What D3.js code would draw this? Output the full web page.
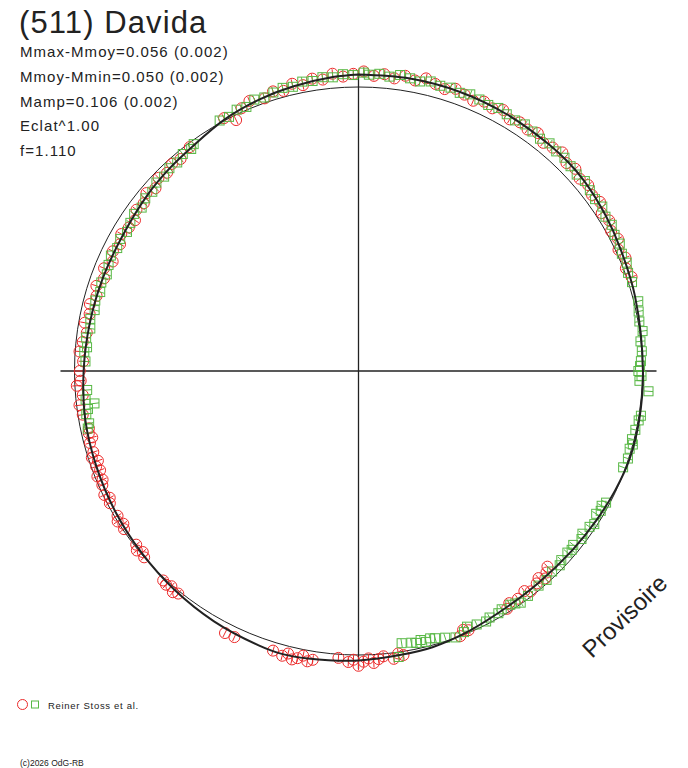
<!DOCTYPE html>
<html>
<head>
<meta charset="utf-8">
<script src="https://cdn.jsdelivr.net/npm/d3@7"></script>
<style>
    body { margin: 0; background: #fff; }
    svg text { font-family: "Liberation Sans", Arial, sans-serif; fill: #222; }
</style>
</head>
<body>
<div id="chart"></div>
<script>

// title + fit results
const title = "(511) Davida";
const statLines = ["Mmax-Mmoy=0.056 (0.002)", "Mmoy-Mmin=0.050 (0.002)", "Mamp=0.106 (0.002)", "Eclat^1.00", "f=1.110"];
const legendLabel = "Reiner Stoss et al.";
const copyright = "(c)2026 OdG-RB";
const stamp = "Provisoire";

// fitted lightcurve (phase angle in degrees, magnitude relative to mean)
const modelAngle = [0, 10, 20, 30, 40, 45, 50, 58, 65, 75, 90, 100, 108, 115, 122, 130, 140, 150, 158, 165, 172, 180, 190, 195, 200, 210, 220, 230, 240, 250, 260, 270, 280, 290, 300, 310, 317, 323, 332, 340, 347, 355, 360];
const modelMag = [-0.052, -0.054, -0.054, -0.052, -0.050, -0.050, -0.046, -0.033, -0.021, -0.010, -0.002, -0.004, -0.004, 0.004, 0.013, 0.021, 0.025, 0.019, 0.004, -0.008, -0.013, -0.023, -0.033, -0.038, -0.033, -0.021, -0.008, 0.004, 0.013, 0.021, 0.027, 0.038, 0.046, 0.050, 0.050, 0.038, 0.029, 0.021, -0.004, -0.021, -0.033, -0.046, -0.052];

// session 1 (red circles)
const redAngle = [1, 3, 5, 7, 9, 11, 13, 15, 17, 19, 21, 23, 25, 27, 29, 31, 33, 35, 37, 39, 41, 43, 45, 47, 49, 51, 53, 55, 57, 59, 61, 63, 65, 67, 69, 71,
    136, 137, 138, 139, 140, 142, 143, 145, 147, 148, 157, 158, 159,
    171, 172, 173, 175, 176, 177, 178, 179, 180, 181, 182, 184, 189, 190, 191, 192, 193, 194, 195, 197,
    205, 207, 219, 220, 221, 222, 223,
    229, 230, 231, 232, 236, 237, 238, 239, 242, 243, 244, 246, 247, 248, 249, 250, 251, 252, 253, 255, 256, 257, 258,
    261, 263, 265, 267, 268, 270, 272, 274, 276, 278, 280, 282, 284, 286, 288,
    290, 292, 294, 296, 298, 300, 302, 304, 306, 308, 310, 312, 314, 316, 318, 320, 323,
    332, 334, 336, 338, 341, 343, 345, 347, 349, 351, 353, 355, 357, 359];
const redMag = [-0.065, -0.048, -0.058, -0.045, -0.062, -0.050, -0.068, -0.055, -0.045, -0.060, -0.050, -0.040, -0.055, -0.045, -0.060, -0.040, -0.052, -0.045, -0.058, -0.040, -0.050, -0.062, -0.042, -0.052, -0.038, -0.048, -0.035, -0.045, -0.025, -0.035, -0.020, -0.030, -0.012, -0.025, -0.010, -0.020,
    0.050, 0.035, 0.020, 0.040, 0.028, 0.018, 0.035, 0.025, 0.030, 0.015, 0.010, 0.020, 0.000,
    -0.015, -0.005, -0.025, -0.010, -0.020, -0.035, -0.015, -0.028, -0.045, -0.020, -0.030, -0.015, -0.035, -0.045, -0.025, -0.040, -0.050, -0.030, -0.045, -0.035,
    -0.040, -0.042, -0.010, -0.020, -0.005, -0.015, -0.010,
    0.000, 0.010, -0.005, 0.008, 0.005, 0.015, 0.000, 0.012, 0.010, 0.020, 0.005, 0.015, 0.025, 0.010, 0.030, 0.020, 0.035, 0.015, 0.028, 0.025, 0.040, 0.030, 0.035,
    0.020, 0.012, 0.030, 0.008, 0.025, 0.022, 0.035, 0.018, 0.028, 0.040, 0.025, 0.038, 0.030, 0.048, 0.035,
    0.055, 0.040, 0.062, 0.045, 0.058, 0.042, 0.055, 0.060, 0.040, 0.048, 0.030, 0.045, 0.025, 0.035, 0.022, 0.030, 0.015,
    -0.010, 0.020, -0.015, -0.030, -0.018, -0.035, -0.025, -0.045, -0.030, -0.050, -0.040, -0.060, -0.045, -0.055];

// session 2 (green squares)
const greenAngle = [1, 2, 4, 6, 8, 10, 12, 14, 16, 18, 20, 22, 24, 26, 28, 30, 32, 34, 36, 38, 40, 42, 44, 46, 48, 50, 52, 54, 56, 58, 60, 62, 64, 66, 68, 70, 72,
    76, 78, 80, 82, 84, 86, 88, 89, 90, 91, 92, 94, 99, 100, 102, 104, 105, 106, 108, 110,
    118, 119, 120, 121, 123, 124, 126, 127, 129, 130, 131, 133, 134, 136, 138, 140, 143, 145, 146, 147, 149, 150, 152, 153, 155, 157, 158, 160, 162, 164, 165, 166, 167, 168, 169, 171, 172,
    258, 259, 261, 262, 263, 264, 266, 272, 274, 275, 277, 279, 281, 283, 285, 287, 289, 291, 293, 295, 297, 299, 301, 303, 305, 307, 309, 311, 313, 315, 317, 319, 321, 323, 324,
    331, 333, 335, 337, 339, 341, 343, 345, 347, 349, 351, 353, 355, 357, 359];
const greenMag = [-0.060, -0.052, -0.058, -0.050, -0.062, -0.055, -0.050, -0.060, -0.053, -0.058, -0.050, -0.060, -0.055, -0.050, -0.058, -0.052, -0.048, -0.056, -0.050, -0.045, -0.055, -0.048, -0.052, -0.045, -0.040, -0.048, -0.040, -0.035, -0.042, -0.030, -0.035, -0.025, -0.028, -0.018, -0.022, -0.012, -0.015,
    -0.018, -0.010, -0.005, -0.012, 0.002, 0.000, 0.006, 0.010, 0.017, 0.004, 0.012, -0.028, -0.008, -0.002, 0.004, 0.009, 0.000, 0.008, 0.003, 0.010,
    0.015, 0.025, 0.018, 0.028, 0.012, 0.022, 0.030, 0.020, 0.032, 0.024, 0.030, 0.028, 0.018, 0.022, 0.012, 0.016, 0.010, 0.005, 0.015, 0.022, 0.025, 0.018, 0.020, 0.012, 0.018, 0.026, 0.010, 0.002, 0.015, 0.025, 0.030, 0.020, 0.033, 0.025, 0.030, 0.035, -0.020,
    0.030, 0.040, 0.035, 0.045, 0.075, 0.040, 0.050, 0.045, 0.038, 0.048, 0.040, 0.052, 0.045, 0.055, 0.048, 0.058, 0.050, 0.060, 0.052, 0.045, 0.055, 0.048, 0.058, 0.050, 0.042, 0.052, 0.040, 0.045, 0.032, 0.038, 0.028, 0.032, 0.020, 0.025, 0.015,
    -0.010, -0.005, -0.018, -0.012, -0.028, -0.022, -0.030, -0.038, -0.032, -0.045, -0.040, -0.050, -0.045, -0.055, -0.050];


class PolarVis {

    constructor(parentElement) {
        this.parentElement = parentElement;
        this.model = modelAngle.map((a, i) => ({angle: a, mag: modelMag[i]}));
        this.red = redAngle.map((a, i) => ({angle: a, mag: redMag[i]}));
        this.green = greenAngle.map((a, i) => ({angle: a, mag: greenMag[i]}));
        this.initVis();
    }

    initVis() {
        let vis = this;

        vis.width = 688;
        vis.height = 768;
        vis.center = [358.5, 371];
        vis.R0 = 284;
        vis.ink = "#222";
        vis.redColor = "#ec2a2a";
        vis.greenColor = "#58b845";

        vis.svg = d3.select("#" + vis.parentElement).append("svg")
            .attr("width", vis.width)
            .attr("height", vis.height);

        // phase -> angle, magnitude -> radius (brighter = further out)
        vis.angle = d3.scaleLinear().domain([0, 360]).range([0, 2 * Math.PI]);
        vis.radius = d3.scaleLinear().domain([-0.06, 0.06]).range([vis.R0 + 14.4, vis.R0 - 14.4]);

        vis.plot = vis.svg.append("g")
            .attr("transform", "translate(" + vis.center[0] + "," + vis.center[1] + ")");

        vis.updateVis();
    }

    updateVis() {
        let vis = this;

        // reference circle (mean magnitude)
        vis.plot.append("circle")
            .attr("r", vis.radius(0))
            .attr("fill", "none")
            .attr("stroke", vis.ink)
            .attr("stroke-width", 1);

        // cross hairs
        let half = 298;
        vis.plot.append("line")
            .attr("x1", -half).attr("x2", half)
            .attr("stroke", vis.ink).attr("stroke-width", 1.3);
        vis.plot.append("line")
            .attr("y1", -half).attr("y2", half)
            .attr("stroke", vis.ink).attr("stroke-width", 1.3);

        let pt = d => d3.pointRadial(vis.angle(d.angle), vis.radius(d.mag));
        let bar = d => {
            let a = vis.angle(d.angle), r = vis.radius(d.mag);
            return [d3.pointRadial(a, r - 4.5), d3.pointRadial(a, r + 4.5)];
        };

        // red session
        let reds = vis.plot.append("g").selectAll("g.red")
            .data(vis.red)
            .enter()
            .append("g")
            .attr("class", "red");
        reds.append("circle")
            .attr("cx", d => pt(d)[0])
            .attr("cy", d => pt(d)[1])
            .attr("r", 5.5)
            .attr("fill", "none")
            .attr("stroke", vis.redColor)
            .attr("stroke-width", 1);
        reds.append("line")
            .attr("x1", d => bar(d)[0][0]).attr("y1", d => bar(d)[0][1])
            .attr("x2", d => bar(d)[1][0]).attr("y2", d => bar(d)[1][1])
            .attr("stroke", vis.redColor)
            .attr("stroke-width", 1);

        // green session
        let greens = vis.plot.append("g").selectAll("g.green")
            .data(vis.green)
            .enter()
            .append("g")
            .attr("class", "green");
        greens.append("rect")
            .attr("x", d => pt(d)[0] - 4.5)
            .attr("y", d => pt(d)[1] - 4.5)
            .attr("width", 9)
            .attr("height", 9)
            .attr("fill", "none")
            .attr("stroke", vis.greenColor)
            .attr("stroke-width", 1);
        greens.append("line")
            .attr("x1", d => bar(d)[0][0]).attr("y1", d => bar(d)[0][1])
            .attr("x2", d => bar(d)[1][0]).attr("y2", d => bar(d)[1][1])
            .attr("stroke", vis.greenColor)
            .attr("stroke-width", 1);

        // fitted lightcurve
        let curve = d3.lineRadial()
            .angle(d => vis.angle(d.angle))
            .radius(d => vis.radius(d.mag))
            .curve(d3.curveCatmullRom.alpha(0.5));
        vis.plot.append("path")
            .datum(vis.model)
            .attr("d", curve)
            .attr("fill", "none")
            .attr("stroke", vis.ink)
            .attr("stroke-width", 2);

        // texts
        vis.svg.append("text")
            .attr("x", 19).attr("y", 33)
            .style("font-size", "31px")
            .style("letter-spacing", "1.1px")
            .text(title);

        vis.svg.selectAll(".stat")
            .data(statLines)
            .enter()
            .append("text")
            .attr("class", "stat")
            .attr("x", 20)
            .attr("y", (d, i) => 57 + i * 24.8)
            .style("font-size", "15px")
            .style("letter-spacing", "1.05px")
            .text(d => d);

        vis.svg.append("text")
            .attr("transform", "translate(592,659) rotate(-44)")
            .style("font-size", "24px")
            .text(stamp);

        // legend
        vis.svg.append("circle")
            .attr("cx", 22.5).attr("cy", 704.5).attr("r", 5)
            .attr("fill", "none").attr("stroke", vis.redColor);
        vis.svg.append("rect")
            .attr("x", 31.5).attr("y", 701).attr("width", 7).attr("height", 7)
            .attr("fill", "none").attr("stroke", vis.greenColor);
        vis.svg.append("text")
            .attr("x", 48).attr("y", 709)
            .style("font-size", "9.5px")
            .style("letter-spacing", "0.7px")
            .text(legendLabel);

        vis.svg.append("text")
            .attr("x", 20).attr("y", 766)
            .style("font-size", "8.5px")
            .text(copyright);
    }
}

new PolarVis("chart");

</script>
</body>
</html>
